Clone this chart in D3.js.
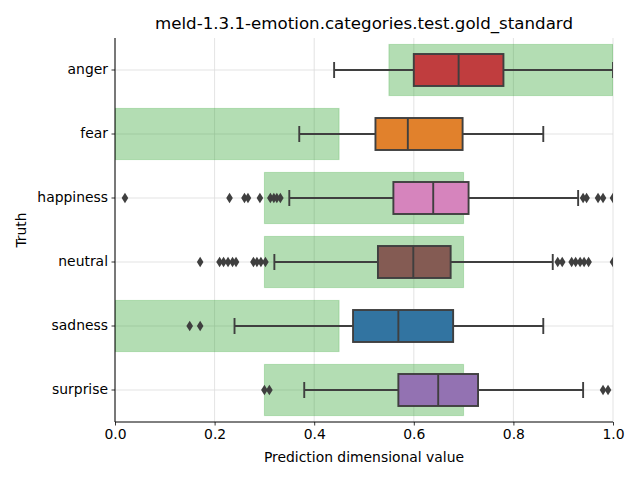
<!DOCTYPE html>
<html>
<head>
<meta charset="utf-8">
<script src="https://cdn.jsdelivr.net/npm/d3@7"></script>
<style>
  body { margin: 0; background: #fff; }
  svg { display: block; font-family: "DejaVu Sans", sans-serif; }
</style>
</head>
<body>
<svg id="chart" width="640" height="480"></svg>
<script>
const categories = ["anger", "fear", "happiness", "neutral", "sadness", "surprise"];
const whiskerLow  = [0.44, 0.37, 0.35, 0.32, 0.24, 0.38];
const q1          = [0.60, 0.523, 0.559, 0.528, 0.478, 0.569];
const medians     = [0.69, 0.588, 0.639, 0.599, 0.569, 0.649];
const q3          = [0.78, 0.698, 0.71, 0.674, 0.679, 0.729];
const whiskerHigh = [1.0, 0.86, 0.93, 0.879, 0.86, 0.94];
const outliers = [
  [],
  [],
  [0.02, 0.23, 0.26, 0.267, 0.291, 0.312, 0.319, 0.325, 0.332, 0.94, 0.947, 0.97, 0.98, 1.0],
  [0.171, 0.21, 0.218, 0.227, 0.236, 0.243, 0.278, 0.285, 0.293, 0.302, 0.889, 0.898, 0.917, 0.925, 0.934, 0.942, 0.951, 1.0],
  [0.15, 0.171],
  [0.30, 0.31, 0.98, 0.99]
];
const goldLow  = [0.55, 0.0, 0.3, 0.3, 0.0, 0.3];
const goldHigh = [1.0, 0.45, 0.7, 0.7, 0.45, 0.7];
const boxColors = ["#c03d3e", "#e1812c", "#d684bd", "#845b53", "#3274a1", "#9372b2"];
const xTicks = [0, 0.2, 0.4, 0.6, 0.8, 1.0];
const titleText = "meld-1.3.1-emotion.categories.test.gold_standard";
const xLabel = "Prediction dimensional value";
const yLabel = "Truth";

const svg = d3.select("#chart");
const L = 115, R = 613, T = 38, B = 422;
const x = d3.scaleLinear().domain([0, 1]).range([L, R]);
const y = d3.scaleBand().domain(categories).range([T, B]).padding(0);
const bw = y.bandwidth();
const data = categories.map((c, i) => ({
  c, lo: whiskerLow[i], q1: q1[i], med: medians[i], q3: q3[i], hi: whiskerHigh[i],
  out: outliers[i], gl: goldLow[i], gh: goldHigh[i], color: boxColors[i]
}));

svg.append("defs").append("clipPath").attr("id", "plotclip")
  .append("rect").attr("x", L).attr("y", T).attr("width", R - L).attr("height", B - T);

// grid
const grid = svg.append("g");
grid.selectAll("line.gx").data(xTicks).join("line")
  .attr("x1", d => x(d)).attr("x2", d => x(d)).attr("y1", T).attr("y2", B)
  .attr("stroke", "#dcdcdc").attr("stroke-width", 0.8);
grid.selectAll("line.gy").data(categories).join("line")
  .attr("x1", L).attr("x2", R)
  .attr("y1", d => y(d) + bw / 2).attr("y2", d => y(d) + bw / 2)
  .attr("stroke", "#dcdcdc").attr("stroke-width", 0.8);

const plot = svg.append("g").attr("clip-path", "url(#plotclip)");

// gold standard ranges
plot.append("g").selectAll("rect").data(data).join("rect")
  .attr("x", d => x(d.gl)).attr("width", d => x(d.gh) - x(d.gl))
  .attr("y", d => y(d.c) + bw * 0.1).attr("height", bw * 0.8)
  .attr("fill", "rgb(44,160,44)").attr("fill-opacity", 0.36)
  .attr("stroke", "rgb(44,160,44)").attr("stroke-opacity", 0.25).attr("stroke-width", 1);

// boxes
const lineCol = "#3f3f3f";
const g = plot.append("g").selectAll("g").data(data).join("g");
const bh = bw * 0.5, capH = bw * 0.25;
g.append("line").attr("x1", d => x(d.lo)).attr("x2", d => x(d.q1))
  .attr("y1", d => y(d.c) + bw / 2).attr("y2", d => y(d.c) + bw / 2)
  .attr("stroke", lineCol).attr("stroke-width", 1.9);
g.append("line").attr("x1", d => x(d.q3)).attr("x2", d => x(d.hi))
  .attr("y1", d => y(d.c) + bw / 2).attr("y2", d => y(d.c) + bw / 2)
  .attr("stroke", lineCol).attr("stroke-width", 1.9);
g.append("line").attr("x1", d => x(d.lo)).attr("x2", d => x(d.lo))
  .attr("y1", d => y(d.c) + bw / 2 - capH / 2).attr("y2", d => y(d.c) + bw / 2 + capH / 2)
  .attr("stroke", lineCol).attr("stroke-width", 1.9);
g.append("line").attr("x1", d => x(d.hi)).attr("x2", d => x(d.hi))
  .attr("y1", d => y(d.c) + bw / 2 - capH / 2).attr("y2", d => y(d.c) + bw / 2 + capH / 2)
  .attr("stroke", lineCol).attr("stroke-width", 1.9);
g.append("rect").attr("x", d => x(d.q1)).attr("width", d => x(d.q3) - x(d.q1))
  .attr("y", d => y(d.c) + bw / 2 - bh / 2).attr("height", bh)
  .attr("fill", d => d.color).attr("stroke", lineCol).attr("stroke-width", 1.9);
g.append("line").attr("x1", d => x(d.med)).attr("x2", d => x(d.med))
  .attr("y1", d => y(d.c) + bw / 2 - bh / 2).attr("y2", d => y(d.c) + bw / 2 + bh / 2)
  .attr("stroke", lineCol).attr("stroke-width", 1.9);
g.each(function(d) {
  d3.select(this).selectAll("path").data(d.out).join("path")
    .attr("transform", v => `translate(${x(v)},${y(d.c) + bw / 2})`)
    .attr("d", "M0,-5.2L3.3,0L0,5.2L-3.3,0Z")
    .attr("fill", lineCol);
});

// axes
const xAxis = svg.append("g").attr("transform", `translate(0,${B})`)
  .call(d3.axisBottom(x).tickValues(xTicks).tickFormat(d3.format(".1f")).tickSizeOuter(0).tickSize(3.5).tickPadding(3.5));
const yAxis = svg.append("g").attr("transform", `translate(${L},0)`)
  .call(d3.axisLeft(y).tickSizeOuter(0).tickSize(3.5).tickPadding(3.5));
[xAxis, yAxis].forEach(a => {
  a.selectAll("text").attr("font-size", "13.9px").attr("font-family", "DejaVu Sans").attr("fill", "#000");
  a.selectAll("line").attr("stroke", "#000").attr("stroke-width", 0.8);
  a.select(".domain").attr("stroke", "#000").attr("stroke-width", 1);
});
xAxis.select(".domain").attr("d", `M${L},0H${R}`);
yAxis.select(".domain").attr("d", `M0,${T}V${B}`);

svg.append("text").attr("x", (L + R) / 2).attr("y", 29).attr("text-anchor", "middle")
  .attr("font-size", "16.67px").attr("fill", "#000").text(titleText);
svg.append("text").attr("x", (L + R) / 2).attr("y", 462).attr("text-anchor", "middle")
  .attr("font-size", "13.9px").attr("fill", "#000").text(xLabel);
svg.append("text").attr("transform", `translate(26,${(T + B) / 2}) rotate(-90)`).attr("text-anchor", "middle")
  .attr("font-size", "13.9px").attr("fill", "#000").text(yLabel);
</script>
</body>
</html>
